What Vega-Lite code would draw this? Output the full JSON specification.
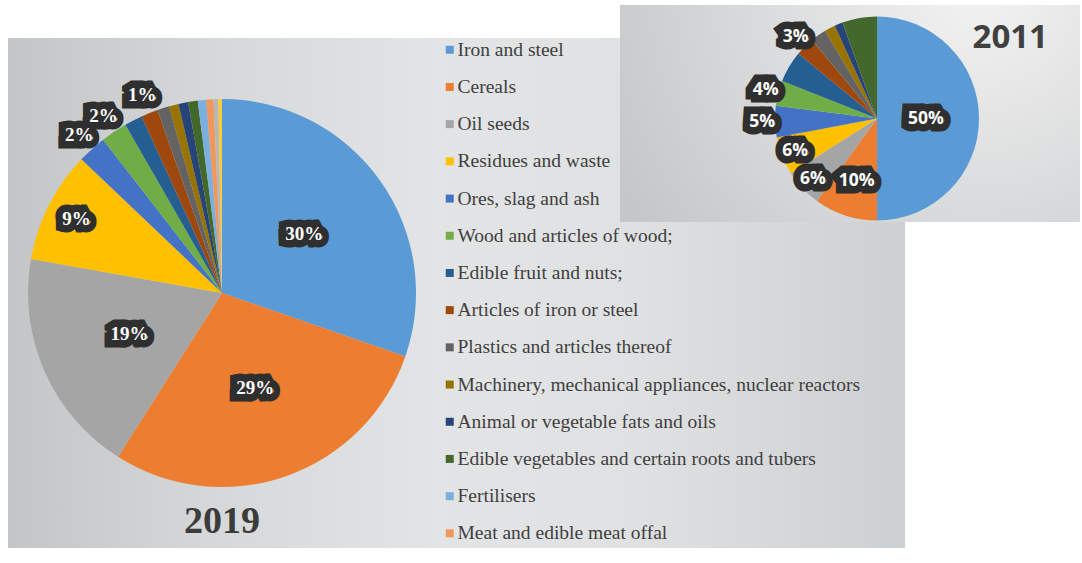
{
  "$schema": "https://vega.github.io/schema/vega-lite/v6.json",
  "background": "white",
  "padding": {"left": 8, "top": 5, "right": 2, "bottom": 10},
  "config": {"view": {"stroke": null}},
  "datasets": {
    "y2019": [
      {"rank": 1, "category": "Iron and steel", "value": 30.3, "label": "30%"},
      {"rank": 2, "category": "Cereals", "value": 28.7, "label": "29%"},
      {"rank": 3, "category": "Oil seeds", "value": 18.8, "label": "19%"},
      {"rank": 4, "category": "Residues and waste", "value": 9.3, "label": "9%"},
      {"rank": 5, "category": "Ores, slag and ash", "value": 2.4, "label": "2%"},
      {"rank": 6, "category": "Wood and articles of wood;", "value": 2.2, "label": "2%"},
      {"rank": 7, "category": "Edible fruit and nuts;", "value": 1.5, "label": ""},
      {"rank": 8, "category": "Articles of iron or steel", "value": 1.4, "label": "1%"},
      {"rank": 9, "category": "Plastics and articles thereof", "value": 1.0, "label": ""},
      {"rank": 10, "category": "Machinery, mechanical appliances, nuclear reactors", "value": 0.8, "label": ""},
      {"rank": 11, "category": "Animal or vegetable fats and oils", "value": 0.8, "label": ""},
      {"rank": 12, "category": "Edible vegetables and certain roots and tubers", "value": 0.8, "label": ""},
      {"rank": 13, "category": "Fertilisers", "value": 0.7, "label": ""},
      {"rank": 14, "category": "Meat and edible meat offal", "value": 0.6, "label": ""},
      {"rank": 15, "category": "Other products", "value": 0.4, "label": ""},
      {"rank": 16, "category": "Other goods", "value": 0.3, "label": ""}
    ],
    "y2011": [
      {"rank": 1, "category": "Iron and steel", "value": 50, "label": "50%"},
      {"rank": 2, "category": "Cereals", "value": 10, "label": "10%"},
      {"rank": 3, "category": "Oil seeds", "value": 6, "label": "6%"},
      {"rank": 4, "category": "Residues and waste", "value": 6, "label": "6%"},
      {"rank": 5, "category": "Ores, slag and ash", "value": 5, "label": "5%"},
      {"rank": 6, "category": "Wood and articles of wood;", "value": 4, "label": "4%"},
      {"rank": 7, "category": "Edible fruit and nuts;", "value": 5, "label": ""},
      {"rank": 8, "category": "Articles of iron or steel", "value": 3, "label": "3%"},
      {"rank": 9, "category": "Plastics and articles thereof", "value": 2.5, "label": ""},
      {"rank": 10, "category": "Machinery, mechanical appliances, nuclear reactors", "value": 1.7, "label": ""},
      {"rank": 11, "category": "Animal or vegetable fats and oils", "value": 1.3, "label": ""},
      {"rank": 12, "category": "Edible vegetables and certain roots and tubers", "value": 5.5, "label": ""}
    ]
  },
  "spacing": 0,
  "hconcat": [
    {
      "spacing": 0,
      "vconcat": [
        {
          "width": 428, "height": 33,
          "view": {"stroke": null, "fill": null},
          "data": {"name": "y2019"},
          "mark": {"type": "point", "opacity": 0}
        },
        {
          "width": 428,
          "height": 510,
          "view": {"stroke": null, "fill": {"gradient": "linear", "x1": 0, "y1": 0, "x2": 1, "y2": 0, "stops": [{"offset": 0, "color": "#c3c5c7"}, {"offset": 0.5, "color": "#d6d8d9"}, {"offset": 1, "color": "#e3e4e5"}]}},
          "data": {"name": "y2019"},
          "title": {"text": "2019", "orient": "bottom", "anchor": "middle", "offset": -15, "baseline": "alphabetic", "font": "Liberation Serif", "fontSize": 38, "fontWeight": "bold", "color": "#3b3b3b"},
          "encoding": {
            "theta": {"field": "value", "type": "quantitative", "stack": true},
            "order": {"field": "rank", "type": "quantitative"}
          },
          "layer": [
            {
              "mark": {"type": "arc", "outerRadius": 194},
              "encoding": {
                "color": {"field": "category", "type": "nominal",
                  "scale": {"domain": ["Iron and steel", "Cereals", "Oil seeds", "Residues and waste", "Ores, slag and ash", "Wood and articles of wood;", "Edible fruit and nuts;", "Articles of iron or steel", "Plastics and articles thereof", "Machinery, mechanical appliances, nuclear reactors", "Animal or vegetable fats and oils", "Edible vegetables and certain roots and tubers", "Fertilisers", "Meat and edible meat offal", "Other products", "Other goods"],
                    "range": ["#5b9bd5", "#ed7d31", "#a5a5a5", "#ffc000", "#4472c4", "#70ad47", "#255e91", "#9e480e", "#636363", "#997300", "#264478", "#43682b", "#7cafdd", "#f1975a", "#b7b7b7", "#ffcd33"]},
                  "legend": {
                    "orient": "none", "legendX": 432, "legendY": 35, "direction": "vertical", "title": null,
                    "values": ["Iron and steel", "Cereals", "Oil seeds", "Residues and waste", "Ores, slag and ash", "Wood and articles of wood;", "Edible fruit and nuts;", "Articles of iron or steel", "Plastics and articles thereof", "Machinery, mechanical appliances, nuclear reactors", "Animal or vegetable fats and oils", "Edible vegetables and certain roots and tubers", "Fertilisers", "Meat and edible meat offal"],
                    "symbolType": "square", "symbolSize": 64, "symbolOpacity": 1, "symbolStrokeWidth": 0,
                    "labelFont": "Liberation Serif", "labelFontSize": 19.5, "labelColor": "#404040", "labelOffset": -2,
                    "rowPadding": 16.2, "labelLimit": 600, "padding": 0
                  }
                }
              }
            },
            {
              "mark": {"type": "text", "radius": 101, "font": "Liberation Serif", "fontWeight": "bold", "fontSize": 19, "fill": "#2f2f2f", "stroke": "#2f2f2f", "strokeWidth": 15, "strokeJoin": "miter", "strokeMiterLimit": 1.5},
              "encoding": {"text": {"condition": {"test": "datum.value >= 15", "field": "label", "type": "nominal"}, "value": ""}}
            },
            {
              "mark": {"type": "text", "radius": 163, "font": "Liberation Serif", "fontWeight": "bold", "fontSize": 19, "fill": "#2f2f2f", "stroke": "#2f2f2f", "strokeWidth": 15, "strokeJoin": "miter", "strokeMiterLimit": 1.5},
              "encoding": {"text": {"condition": {"test": "datum.value >= 5 && datum.value < 15", "field": "label", "type": "nominal"}, "value": ""}}
            },
            {
              "mark": {"type": "text", "radius": 213, "font": "Liberation Serif", "fontWeight": "bold", "fontSize": 19, "fill": "#2f2f2f", "stroke": "#2f2f2f", "strokeWidth": 15, "strokeJoin": "miter", "strokeMiterLimit": 1.5},
              "encoding": {"text": {"condition": {"test": "datum.value < 5", "field": "label", "type": "nominal"}, "value": ""}}
            },
            {
              "mark": {"type": "text", "radius": 101, "font": "Liberation Serif", "fontWeight": "bold", "fontSize": 19, "fill": "white"},
              "encoding": {"text": {"condition": {"test": "datum.value >= 15", "field": "label", "type": "nominal"}, "value": ""}}
            },
            {
              "mark": {"type": "text", "radius": 163, "font": "Liberation Serif", "fontWeight": "bold", "fontSize": 19, "fill": "white"},
              "encoding": {"text": {"condition": {"test": "datum.value >= 5 && datum.value < 15", "field": "label", "type": "nominal"}, "value": ""}}
            },
            {
              "mark": {"type": "text", "radius": 213, "font": "Liberation Serif", "fontWeight": "bold", "fontSize": 19, "fill": "white"},
              "encoding": {"text": {"condition": {"test": "datum.value < 5", "field": "label", "type": "nominal"}, "value": ""}}
            }
          ]
        }
      ]
    },
    {
      "spacing": 0,
      "vconcat": [
        {
          "spacing": 0,
          "hconcat": [
            {
              "spacing": 0,
              "vconcat": [
                {
                  "width": 184, "height": 33,
                  "view": {"stroke": null, "fill": null},
                  "data": {"name": "y2019"},
                  "mark": {"type": "point", "opacity": 0}
                },
                {
                  "width": 184, "height": 184,
                  "view": {"stroke": null, "fill": {"gradient": "linear", "x1": 0, "y1": 0, "x2": 1, "y2": 0, "stops": [{"offset": 0, "color": "#e3e4e5"}, {"offset": 1, "color": "#e0e1e2"}]}},
                  "data": {"name": "y2019"},
                  "mark": {"type": "point", "opacity": 0}
                }
              ]
            },
            {
              "width": 460,
              "height": 217,
              "view": {"stroke": null, "fill": {"gradient": "radial", "x1": 0.78, "y1": 0.22, "r1": 0, "x2": 0.78, "y2": 0.22, "r2": 0.9, "stops": [{"offset": 0, "color": "#f3f3f3"}, {"offset": 1, "color": "#c4c6c8"}]}},
              "data": {"name": "y2011"},
              "title": {"text": "2011", "orient": "bottom", "anchor": "end", "frame": "group", "offset": -174, "dx": -32, "baseline": "alphabetic", "font": "Open Sans", "fontSize": 33, "fontWeight": "bold", "color": "#404040"},
              "encoding": {
                "theta": {"field": "value", "type": "quantitative", "stack": true},
                "order": {"field": "rank", "type": "quantitative"}
              },
              "layer": [
                {
                  "mark": {"type": "arc", "outerRadius": 102, "xOffset": 27, "yOffset": 5, "clip": true},
                  "encoding": {
                    "color": {"field": "category", "type": "nominal", "legend": null,
                      "scale": {"domain": ["Iron and steel", "Cereals", "Oil seeds", "Residues and waste", "Ores, slag and ash", "Wood and articles of wood;", "Edible fruit and nuts;", "Articles of iron or steel", "Plastics and articles thereof", "Machinery, mechanical appliances, nuclear reactors", "Animal or vegetable fats and oils", "Edible vegetables and certain roots and tubers", "Fertilisers", "Meat and edible meat offal", "Other products", "Other goods"],
                        "range": ["#5b9bd5", "#ed7d31", "#a5a5a5", "#ffc000", "#4472c4", "#70ad47", "#255e91", "#9e480e", "#636363", "#997300", "#264478", "#43682b", "#7cafdd", "#f1975a", "#b7b7b7", "#ffcd33"]}}
                  }
                },
                {
                  "mark": {"type": "text", "clip": true, "radius": 49, "xOffset": 27, "yOffset": 5, "font": "Open Sans", "fontWeight": "bold", "fontSize": 17.5, "fill": "#2f2f2f", "stroke": "#2f2f2f", "strokeWidth": 15, "strokeJoin": "miter", "strokeMiterLimit": 1.5},
                  "encoding": {"text": {"condition": {"test": "datum.value >= 40", "field": "label", "type": "nominal"}, "value": ""}}
                },
                {
                  "mark": {"type": "text", "clip": true, "radius": 66, "xOffset": 27, "yOffset": 5, "font": "Open Sans", "fontWeight": "bold", "fontSize": 17.5, "fill": "#2f2f2f", "stroke": "#2f2f2f", "strokeWidth": 15, "strokeJoin": "miter", "strokeMiterLimit": 1.5},
                  "encoding": {"text": {"condition": {"test": "datum.value >= 8 && datum.value < 40", "field": "label", "type": "nominal"}, "value": ""}}
                },
                {
                  "mark": {"type": "text", "clip": true, "radius": 88, "xOffset": 27, "yOffset": 5, "font": "Open Sans", "fontWeight": "bold", "fontSize": 17.5, "fill": "#2f2f2f", "stroke": "#2f2f2f", "strokeWidth": 15, "strokeJoin": "miter", "strokeMiterLimit": 1.5},
                  "encoding": {"text": {"condition": {"test": "datum.value >= 5.5 && datum.value < 8", "field": "label", "type": "nominal"}, "value": ""}}
                },
                {
                  "mark": {"type": "text", "clip": true, "radius": 115, "xOffset": 27, "yOffset": 5, "font": "Open Sans", "fontWeight": "bold", "fontSize": 17.5, "fill": "#2f2f2f", "stroke": "#2f2f2f", "strokeWidth": 15, "strokeJoin": "miter", "strokeMiterLimit": 1.5},
                  "encoding": {"text": {"condition": {"test": "datum.value < 5.5", "field": "label", "type": "nominal"}, "value": ""}}
                },
                {
                  "mark": {"type": "text", "clip": true, "radius": 49, "xOffset": 27, "yOffset": 5, "font": "Open Sans", "fontWeight": "bold", "fontSize": 17.5, "fill": "white"},
                  "encoding": {"text": {"condition": {"test": "datum.value >= 40", "field": "label", "type": "nominal"}, "value": ""}}
                },
                {
                  "mark": {"type": "text", "clip": true, "radius": 66, "xOffset": 27, "yOffset": 5, "font": "Open Sans", "fontWeight": "bold", "fontSize": 17.5, "fill": "white"},
                  "encoding": {"text": {"condition": {"test": "datum.value >= 8 && datum.value < 40", "field": "label", "type": "nominal"}, "value": ""}}
                },
                {
                  "mark": {"type": "text", "clip": true, "radius": 88, "xOffset": 27, "yOffset": 5, "font": "Open Sans", "fontWeight": "bold", "fontSize": 17.5, "fill": "white"},
                  "encoding": {"text": {"condition": {"test": "datum.value >= 5.5 && datum.value < 8", "field": "label", "type": "nominal"}, "value": ""}}
                },
                {
                  "mark": {"type": "text", "clip": true, "radius": 115, "xOffset": 27, "yOffset": 5, "font": "Open Sans", "fontWeight": "bold", "fontSize": 17.5, "fill": "white"},
                  "encoding": {"text": {"condition": {"test": "datum.value < 5.5", "field": "label", "type": "nominal"}, "value": ""}}
                }
              ]
            }
          ]
        },
        {
          "width": 469,
          "height": 326,
          "view": {"stroke": null, "fill": {"gradient": "linear", "x1": 0, "y1": 0, "x2": 1, "y2": 0, "stops": [{"offset": 0, "color": "#e3e4e5"}, {"offset": 0.4, "color": "#e0e1e2"}, {"offset": 1, "color": "#cdd0d2"}]}},
          "data": {"name": "y2019"},
          "mark": {"type": "point", "opacity": 0}
        }
      ]
    }
  ]
}
